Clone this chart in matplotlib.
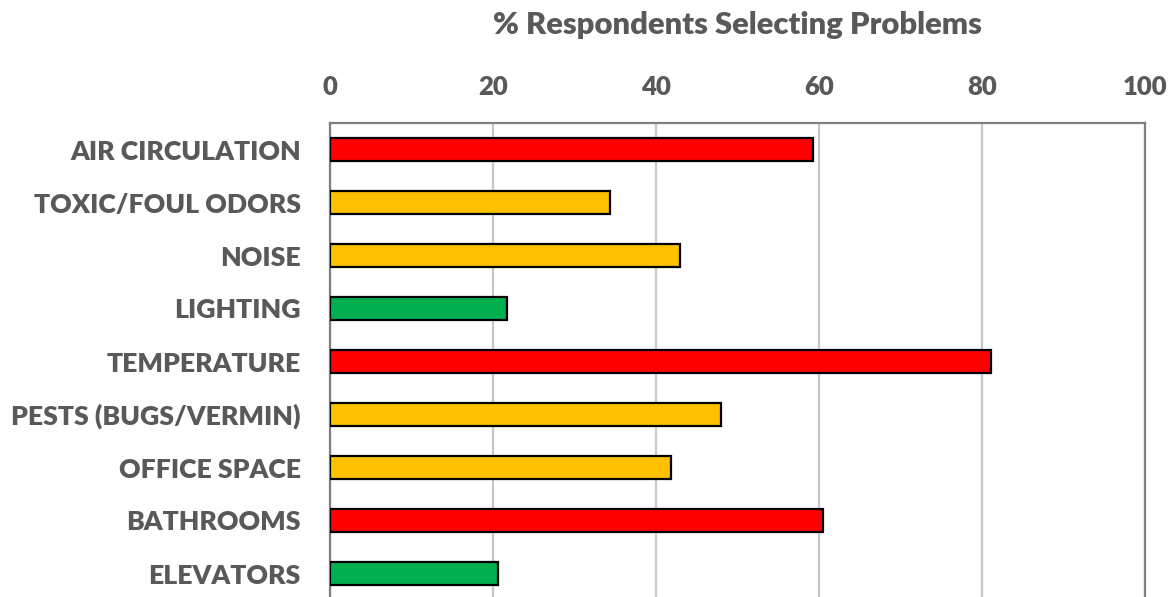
import matplotlib
matplotlib.use("Agg")
import matplotlib.pyplot as plt

categories = [
    "AIR CIRCULATION",
    "TOXIC/FOUL ODORS",
    "NOISE",
    "LIGHTING",
    "TEMPERATURE",
    "PESTS (BUGS/VERMIN)",
    "OFFICE SPACE",
    "BATHROOMS",
    "ELEVATORS",
]
percent = [59.3, 34.4, 42.9, 21.7, 81.1, 48.0, 41.8, 60.5, 20.6]
severity = ["high", "mid", "mid", "low", "high", "mid", "mid", "high", "low"]
severity_colors = {"high": "#FF0000", "mid": "#FFC000", "low": "#00B050"}
x_ticks = [0, 20, 40, 60, 80, 100]

plt.rcParams["font.family"] = ["Lato", "DejaVu Sans"]
text_color = "#595959"

fig = plt.figure(figsize=(11.75, 5.97), dpi=100)
ax = fig.add_axes([330 / 1175, -3 / 597, 815 / 1175, 477 / 597])

ypos = list(range(len(categories)))
ax.barh(ypos, percent, height=0.45,
        color=[severity_colors[s] for s in severity],
        edgecolor="black", linewidth=1.6, zorder=3)

ax.set_xlim(0, 100)
ax.set_ylim(len(categories) - 0.5, -0.5)
ax.set_xticks(x_ticks)
ax.set_yticks(ypos)
ax.set_yticklabels(categories)

ax.xaxis.tick_top()
ax.xaxis.set_label_position("top")
ax.tick_params(axis="x", length=0, pad=17, labelsize=18.5, labelcolor=text_color)
ax.tick_params(axis="y", length=0, pad=21, labelsize=19.2, labelcolor=text_color)
for lbl in ax.get_xticklabels() + ax.get_yticklabels():
    lbl.set_fontweight("heavy")

ax.grid(axis="x", color="#C8C8C8", linewidth=1.6, zorder=0)
ax.grid(axis="y", visible=False)
for side, sp in ax.spines.items():
    sp.set_color("#7F7F7F")
    sp.set_linewidth(1.6)

ax.set_xlabel("% Respondents Selecting Problems", fontsize=22.3,
              fontweight="heavy", color=text_color, labelpad=30)

fig.savefig("out.png", dpi=100)
